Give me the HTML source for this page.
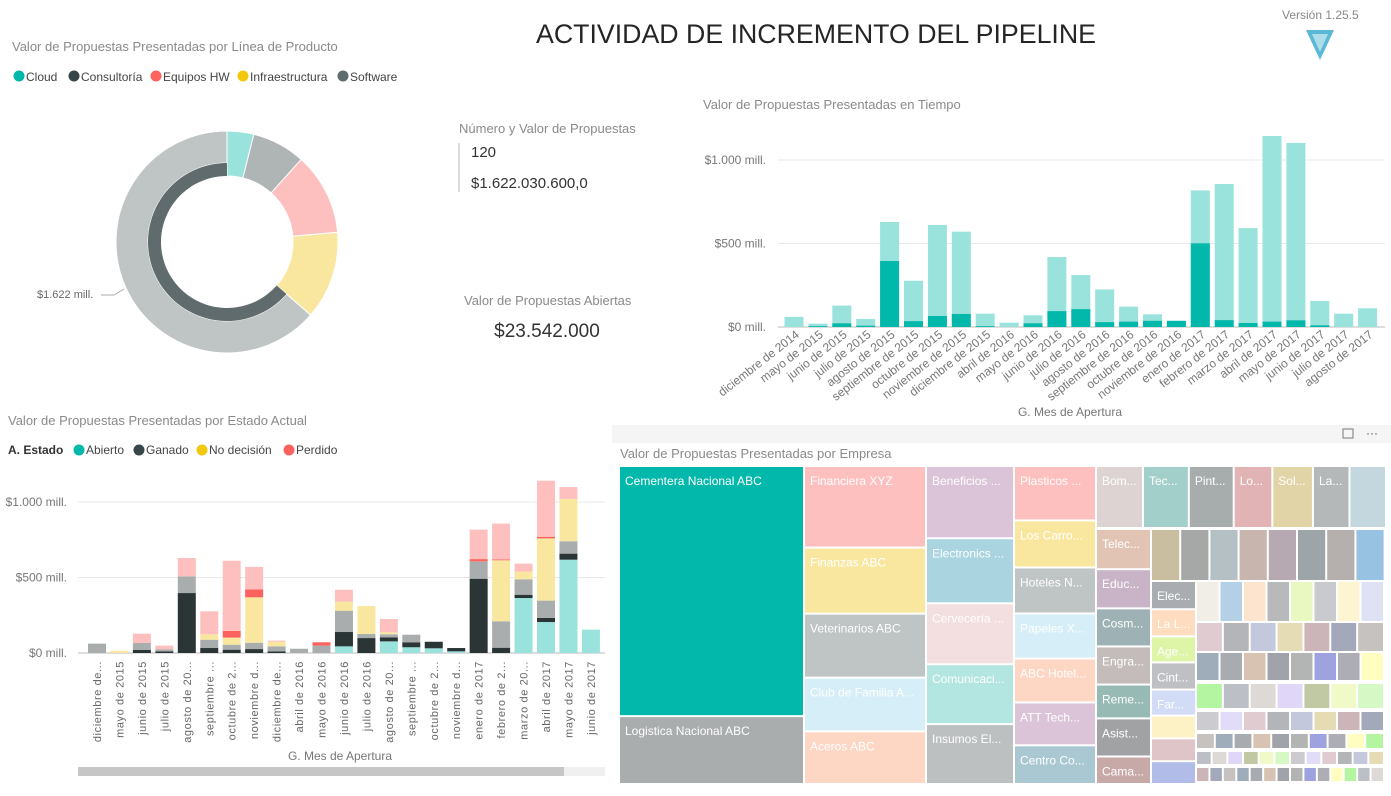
<!DOCTYPE html>
<html><head><meta charset="utf-8"><style>
body{margin:0;background:#fff;width:1391px;height:791px;overflow:hidden;font-family:"Liberation Sans",sans-serif}
svg text{font-family:"Liberation Sans",sans-serif}
</style></head><body>
<svg id="s" width="1391" height="791" viewBox="0 0 1391 791">
<text x="816" y="43" text-anchor="middle" font-size="27" fill="#252525" textLength="560" lengthAdjust="spacingAndGlyphs">ACTIVIDAD DE INCREMENTO DEL PIPELINE</text>
<text x="1282" y="19" font-size="12" fill="#888">Versión 1.25.5</text>
<g><polygon points="1306,30 1334,30 1320,60" fill="#5bb8d6"/><polygon points="1312,34 1328,34 1320,52" fill="#fff" opacity="0.5"/></g>

<text x="12" y="51" font-size="13" fill="#8a8a8a">Valor de Propuestas Presentadas por Línea de Producto</text>
<g id="donutLegend"></g>
<g id="donut"></g>
<text x="37" y="298" font-size="11" fill="#666">$1.622 mill.</text>
<path d="M101,295 L114,295 L124,289" stroke="#aaa" fill="none"/>

<text x="459" y="133" font-size="13" fill="#8a8a8a">Número y Valor de Propuestas</text>
<line x1="459" y1="143" x2="459" y2="192" stroke="#bbb"/>
<text x="471" y="157" font-size="15" fill="#333">120</text>
<text x="471" y="188" font-size="15" fill="#333">$1.622.030.600,0</text>
<text x="464" y="305" font-size="13" fill="#8a8a8a">Valor de Propuestas Abiertas</text>
<text x="547" y="337" text-anchor="middle" font-size="19" fill="#333">$23.542.000</text>

<text x="703" y="109" font-size="13" fill="#8a8a8a">Valor de Propuestas Presentadas en Tiempo</text>
<g id="topChart"></g>
<text x="1070" y="416" text-anchor="middle" font-size="12" fill="#777">G. Mes de Apertura</text>

<text x="8" y="425" font-size="13" fill="#8a8a8a">Valor de Propuestas Presentadas por Estado Actual</text>
<g id="statusLegend"></g>
<g id="botChart"></g>
<text x="340" y="760" text-anchor="middle" font-size="12" fill="#777">G. Mes de Apertura</text>
<rect x="78" y="767" width="527" height="9" fill="#f0f0f0"/>
<rect x="78" y="767" width="486" height="9" fill="#c6c6c6"/>

<rect x="612" y="425" width="779" height="18" fill="#f5f5f5"/>
<rect x="1343" y="429" width="10" height="9" fill="none" stroke="#777"/>
<text x="1366" y="437" font-size="12" fill="#555">···</text>
<text x="620" y="458" font-size="13" fill="#8a8a8a">Valor de Propuestas Presentadas por Empresa</text>
<g id="treemap"></g>
</svg>
<script>
const NS="http://www.w3.org/2000/svg";
function mk(p,t,a,txt){const e=document.createElementNS(NS,t);for(const k in a)e.setAttribute(k,a[k]);if(txt!==undefined)e.textContent=txt;p.appendChild(e);return e;}

// ---------- Donut ----------
const productNames=["Cloud","Consultoría","Equipos HW","Infraestructura","Software"];
const productColors=["#01b8aa","#374649","#fd625e","#f2c80f","#5f6b6d"];
const donutOuterNames=["Cloud","Otro1","Equipos HW","Infraestructura","Software"];
const donutOuterValues=[63,126,194,208,1031];
const donutOuterColors=["#99e3dc","#afb4b5","#fec0bf","#f9e7a0","#bfc4c5"];
const lg=document.getElementById('donutLegend');
const legendX=[13,68,150,237,337];
productNames.forEach((n,i)=>{
  const lx=legendX[i];
  const g=mk(lg,'g',{});
  
  
  mk(g,'circle',{cx:lx+6,cy:76,r:5.5,fill:productColors[i]});
  mk(g,'text',{x:lx+13,y:81,'font-size':12,fill:'#444'},n);
});
const dg=document.getElementById('donut');
const cx=227,cy=242;
function arc(r0,r1,a0,a1){
  const p=(r,a)=>[cx+r*Math.sin(a*Math.PI/180),cy-r*Math.cos(a*Math.PI/180)];
  const lf=(a1-a0)>180?1:0;
  const [x0,y0]=p(r1,a0),[x1,y1]=p(r1,a1),[x2,y2]=p(r0,a1),[x3,y3]=p(r0,a0);
  return `M${x0},${y0} A${r1},${r1} 0 ${lf} 1 ${x1},${y1} L${x2},${y2} A${r0},${r0} 0 ${lf} 0 ${x3},${y3}Z`;
}
const tot=donutOuterValues.reduce((a,b)=>a+b,0);
let a=0;
donutOuterValues.forEach((v,i)=>{
  const a1=a+v/tot*360;
  const last=i===donutOuterValues.length-1;
  const e=mk(dg,'path',{d:arc(last?79:66,111,a,Math.min(a1,359.99)),fill:donutOuterColors[i],stroke:'#fff','stroke-width':1});
  
  
  if(last){
    const d=mk(dg,'path',{d:arc(66,79,a,359.99),fill:'#5f6b6d'});
    
    
  }
  a=a1;
});

// ---------- Top chart ----------
const topCats=["diciembre de 2014","mayo de 2015","junio de 2015","julio de 2015","agosto de 2015","septiembre de 2015","octubre de 2015","noviembre de 2015","diciembre de 2015","abril de 2016","mayo de 2016","junio de 2016","julio de 2016","agosto de 2016","septiembre de 2016","octubre de 2016","noviembre de 2016","enero de 2017","febrero de 2017","marzo de 2017","abril de 2017","mayo de 2017","junio de 2017","julio de 2017","agosto de 2017"];
const topTotal=[61,20,128,48,629,277,611,571,80,26,70,419,311,225,122,76,37,818,856,592,1144,1102,156,80,112];
const topHighlight=[0,5,22,8,395,35,66,78,5,0,22,95,107,29,32,37,37,501,41,24,32,40,10,0,0];
const topTicks=[0,500,1000];
const topTickLabels=["$0 mill.","$500 mill.","$1.000 mill."];
const tg=document.getElementById('topChart');
const tY=v=>327-v*0.167, tX=i=>794+i*23.9;
topTicks.forEach((t,i)=>{
  const l=mk(tg,'line',{x1:778,x2:1385,y1:tY(t),y2:tY(t),stroke:t===0?'#bbb':'#e8e8e8'});
  
  
  const tx=mk(tg,'text',{x:766,y:tY(t)+4,'text-anchor':'end','font-size':12,fill:'#777'},topTickLabels[i]);
  
  
});
topCats.forEach((c,i)=>{
  const b=mk(tg,'rect',{x:tX(i)-9.5,y:tY(topTotal[i]),width:19,height:topTotal[i]*0.167,fill:'#99e3dc'});
  
  
  const h=mk(tg,'rect',{x:tX(i)-9.5,y:tY(topHighlight[i]),width:19,height:topHighlight[i]*0.167,fill:'#01b8aa'});
  
  
  const t=mk(tg,'text',{x:0,y:0,'text-anchor':'end','font-size':12,fill:'#777',transform:`translate(${tX(i)+6},${336}) rotate(-38)`},c);
  
  
});

// ---------- Bottom stacked chart ----------
const statusNames=["Abierto","Ganado","No decisión","Perdido"];
const statusColors=["#01b8aa","#374649","#f2c80f","#fd625e"];
const botCats=["diciembre de...","mayo de 2015","junio de 2015","julio de 2015","agosto de 20...","septiembre ...","octubre de 2...","noviembre d...","diciembre de...","abril de 2016","mayo de 2016","junio de 2016","julio de 2016","agosto de 20...","septiembre ...","octubre de 2...","noviembre d...","enero de 2017","febrero de 2...","marzo de 20...","abril de 2017","mayo de 2017","junio de 2017"];
const abierto=[0,0,0,0,0,0,0,0,0,0,0,44,0,77,38,31,11,0,0,364,205,618,155];
const ganado=[0,0,20,10,397,33,22,26,10,0,0,95,99,27,33,42,22,492,35,22,27,40,0];
const gris=[62,0,46,15,111,55,33,42,34,28,49,141,27,20,50,4,0,115,175,102,115,82,0];
const amarillo=[0,15,0,0,0,36,47,301,31,0,0,60,185,13,0,0,0,0,404,51,412,280,0];
const rojo=[0,0,0,0,0,0,44,53,0,0,22,0,0,0,0,0,0,15,6,0,11,0,0];
const rosa=[0,0,62,24,121,152,465,148,7,0,0,79,0,88,0,0,0,195,237,53,371,79,0];
const botTicks=[0,500,1000];
const botTickLabels=["$0 mill.","$500 mill.","$1.000 mill."];
const stackSeries=[abierto,ganado,gris,amarillo,rojo,rosa];
const stackNames=["abierto","ganado","otro","no-decision","perdido","perdido-resaltado"];
const stackColors=["#99e3dc","#2b3535","#a9adad","#f9e7a0","#fd625e","#fec0bf"];
const sl=document.getElementById('statusLegend');
mk(sl,'text',{x:8,y:454,'font-size':12,fill:'#333','font-weight':'bold'},"A. Estado");
const statusLegendX=[73,133,196,283];
statusNames.forEach((n,i)=>{
  const sx=statusLegendX[i];
  const g=mk(sl,'g',{});
  
  
  mk(g,'circle',{cx:sx+6,cy:450,r:5.5,fill:statusColors[i]});
  mk(g,'text',{x:sx+13,y:454,'font-size':12,fill:'#444'},n);
});
const bg=document.getElementById('botChart');
const bY=v=>653-v*0.151, bX=i=>97+i*22.45;
botTicks.forEach((t,i)=>{
  const l=mk(bg,'line',{x1:78,x2:605,y1:bY(t),y2:bY(t),stroke:t===0?'#bbb':'#e8e8e8'});
  
  
  const tx=mk(bg,'text',{x:67,y:bY(t)+4,'text-anchor':'end','font-size':12,fill:'#777'},botTickLabels[i]);
  
  
});
botCats.forEach((c,i)=>{
  let acc=0;
  stackSeries.forEach((s,k)=>{
    const v=s[i]; if(!v) return;
    const r=mk(bg,'rect',{x:bX(i)-9,y:bY(acc+v),width:18,height:v*0.151,fill:stackColors[k]});
    
    
    acc+=v;
  });
  const t=mk(bg,'text',{x:0,y:0,'text-anchor':'end','font-size':11,fill:'#666','letter-spacing':'0.6',transform:`translate(${bX(i)+4},${661}) rotate(-90)`},c);
  
  
});

// ---------- Treemap ----------
const tmCols=[
 {x:620,w:183,items:[["Cementera Nacional ABC",247,"#01b8aa"],["Logistica Nacional ABC",67,"#a9adad"]]},
 {x:805,w:120,items:[["Financiera XYZ",79,"#fec0bf"],["Finanzas ABC",64,"#f9e7a0"],["Veterinarios ABC",62,"#bfc4c5"],["Club de Familia A...",52,"#d6eef7"],["Aceros ABC",51,"#fdd6c4"]]},
 {x:927,w:86,items:[["Beneficios ...",70,"#dbc4d8"],["Electronics ...",63,"#a9d4e0"],["Cervecería ...",59,"#f3dfdf"],["Comunicaci...",58,"#b3e6e0"],["Insumos El...",58,"#bcc0c0"]]},
 {x:1015,w:80,items:[["Plasticos ...",52,"#fec0bf"],["Los Carro...",45,"#f9e7a0"],["Hoteles N...",44,"#bfc4c5"],["Papeles X...",43,"#d6eef7"],["ABC Hotel...",42,"#fdd6c4"],["ATT Tech...",41,"#dbc4d8"],["Centro Co...",37,"#a9c8d2"]]},
 {x:1097,w:53,y:530,items:[["Telec...",38,"#e2c4b5"],["Educ...",37,"#c9b3c6"],["Cosm...",36,"#9eb2b6"],["Engra...",36,"#c4bcbb"],["Reme...",32,"#98bab5"],["Asist...",36,"#a0a2a3"],["Cama...",26,"#c7a9a8"]]},
 {x:1152,w:43,y:582,items:[["Elec...",26,"#a9adb1"],["La L...",25,"#fedcc0"],["Age...",24,"#def5a8"],["Cint...",25,"#bfc0c4"],["Far...",24,"#d2dcf6"],["",21,"#fdf2c6"],["",21,"#dfc4c8"],["",21,"#b1bde8"]]}
];
const tmTopRow=[["Bom...",45,"#dcd3d2"],["Tec...",44,"#a3cfca"],["Pint...",43,"#a7adad"],["Lo...",37,"#e2b3b4"],["Sol...",39,"#e1d5a8"],["La...",35,"#b4b8b9"],["",35,"#c5d7de"]];
const tmRow2=["#c9bfa0","#a6a8a8","#b5c0c4","#c8b5ad","#b6a9b2","#9da5a8","#b5afad","#98c2e2"];
const tmRow3=["#f1ede7","#b4d0e6","#fde4ce","#b8b9bb","#e8f8c0","#c9cacd","#fdf4d2","#dfe2f5"];
const tmSmall=["#e0ccd0","#b4b5b8","#c4c8dd","#e5dcb5","#cbb5b8","#a3a8ba","#c5c2bf","#9eadb9","#a8abb0","#d8c3b2","#a1a3aa","#b3b5b4","#9ea3e0","#adaeb5","#fffec0","#b3f5a0","#bcbfc6","#dcd9d7","#e0d7f8","#c0c8a4","#f0fac8","#d5f8c4","#cbcbd0","#e2dcf8"];
const tm=document.getElementById('treemap');
function cell(x,y,w,h,fill,label){
  const r=mk(tm,'rect',{x:x,y:y,width:Math.max(w,1),height:Math.max(h,1),fill:fill});
  
  
  if(label){
    const t=mk(tm,'text',{x:x+5,y:y+18,'font-size':12,fill:'#fff'},label);
    
    
  }
}
tmCols.forEach(col=>{
  const y0=col.y||467, H=783-y0;
  const s=col.items.reduce((a,b)=>a+b[1],0);
  let y=y0;
  col.items.forEach(it=>{const h=it[1]/s*(H+2);cell(col.x,y,col.w,h-2,it[2],it[0]);y+=h;});
});
{let s=tmTopRow.reduce((a,b)=>a+b[1],0),x=1097;tmTopRow.forEach(it=>{const w=it[1]/s*290;cell(x,467,w-2,60,it[2],it[0]);x+=w;});}
tmRow2.forEach((c,i)=>cell(1152+i*29.2,530,27.2,50,c));
tmRow3.forEach((c,i)=>cell(1197+i*23.5,582,21.5,39,c));
{let k=0;
 const rows=[[623,30,7],[653,29,8],[684,26,7],[712,20,8],[734,16,10],[752,14,12],[768,15,14]];
 rows.forEach(([y,h,n])=>{const w=188/n;for(let i=0;i<n;i++){cell(1197+i*w,y,w-2,h-2,tmSmall[k%tmSmall.length]);k++;}});
}
</script>
</body></html>
